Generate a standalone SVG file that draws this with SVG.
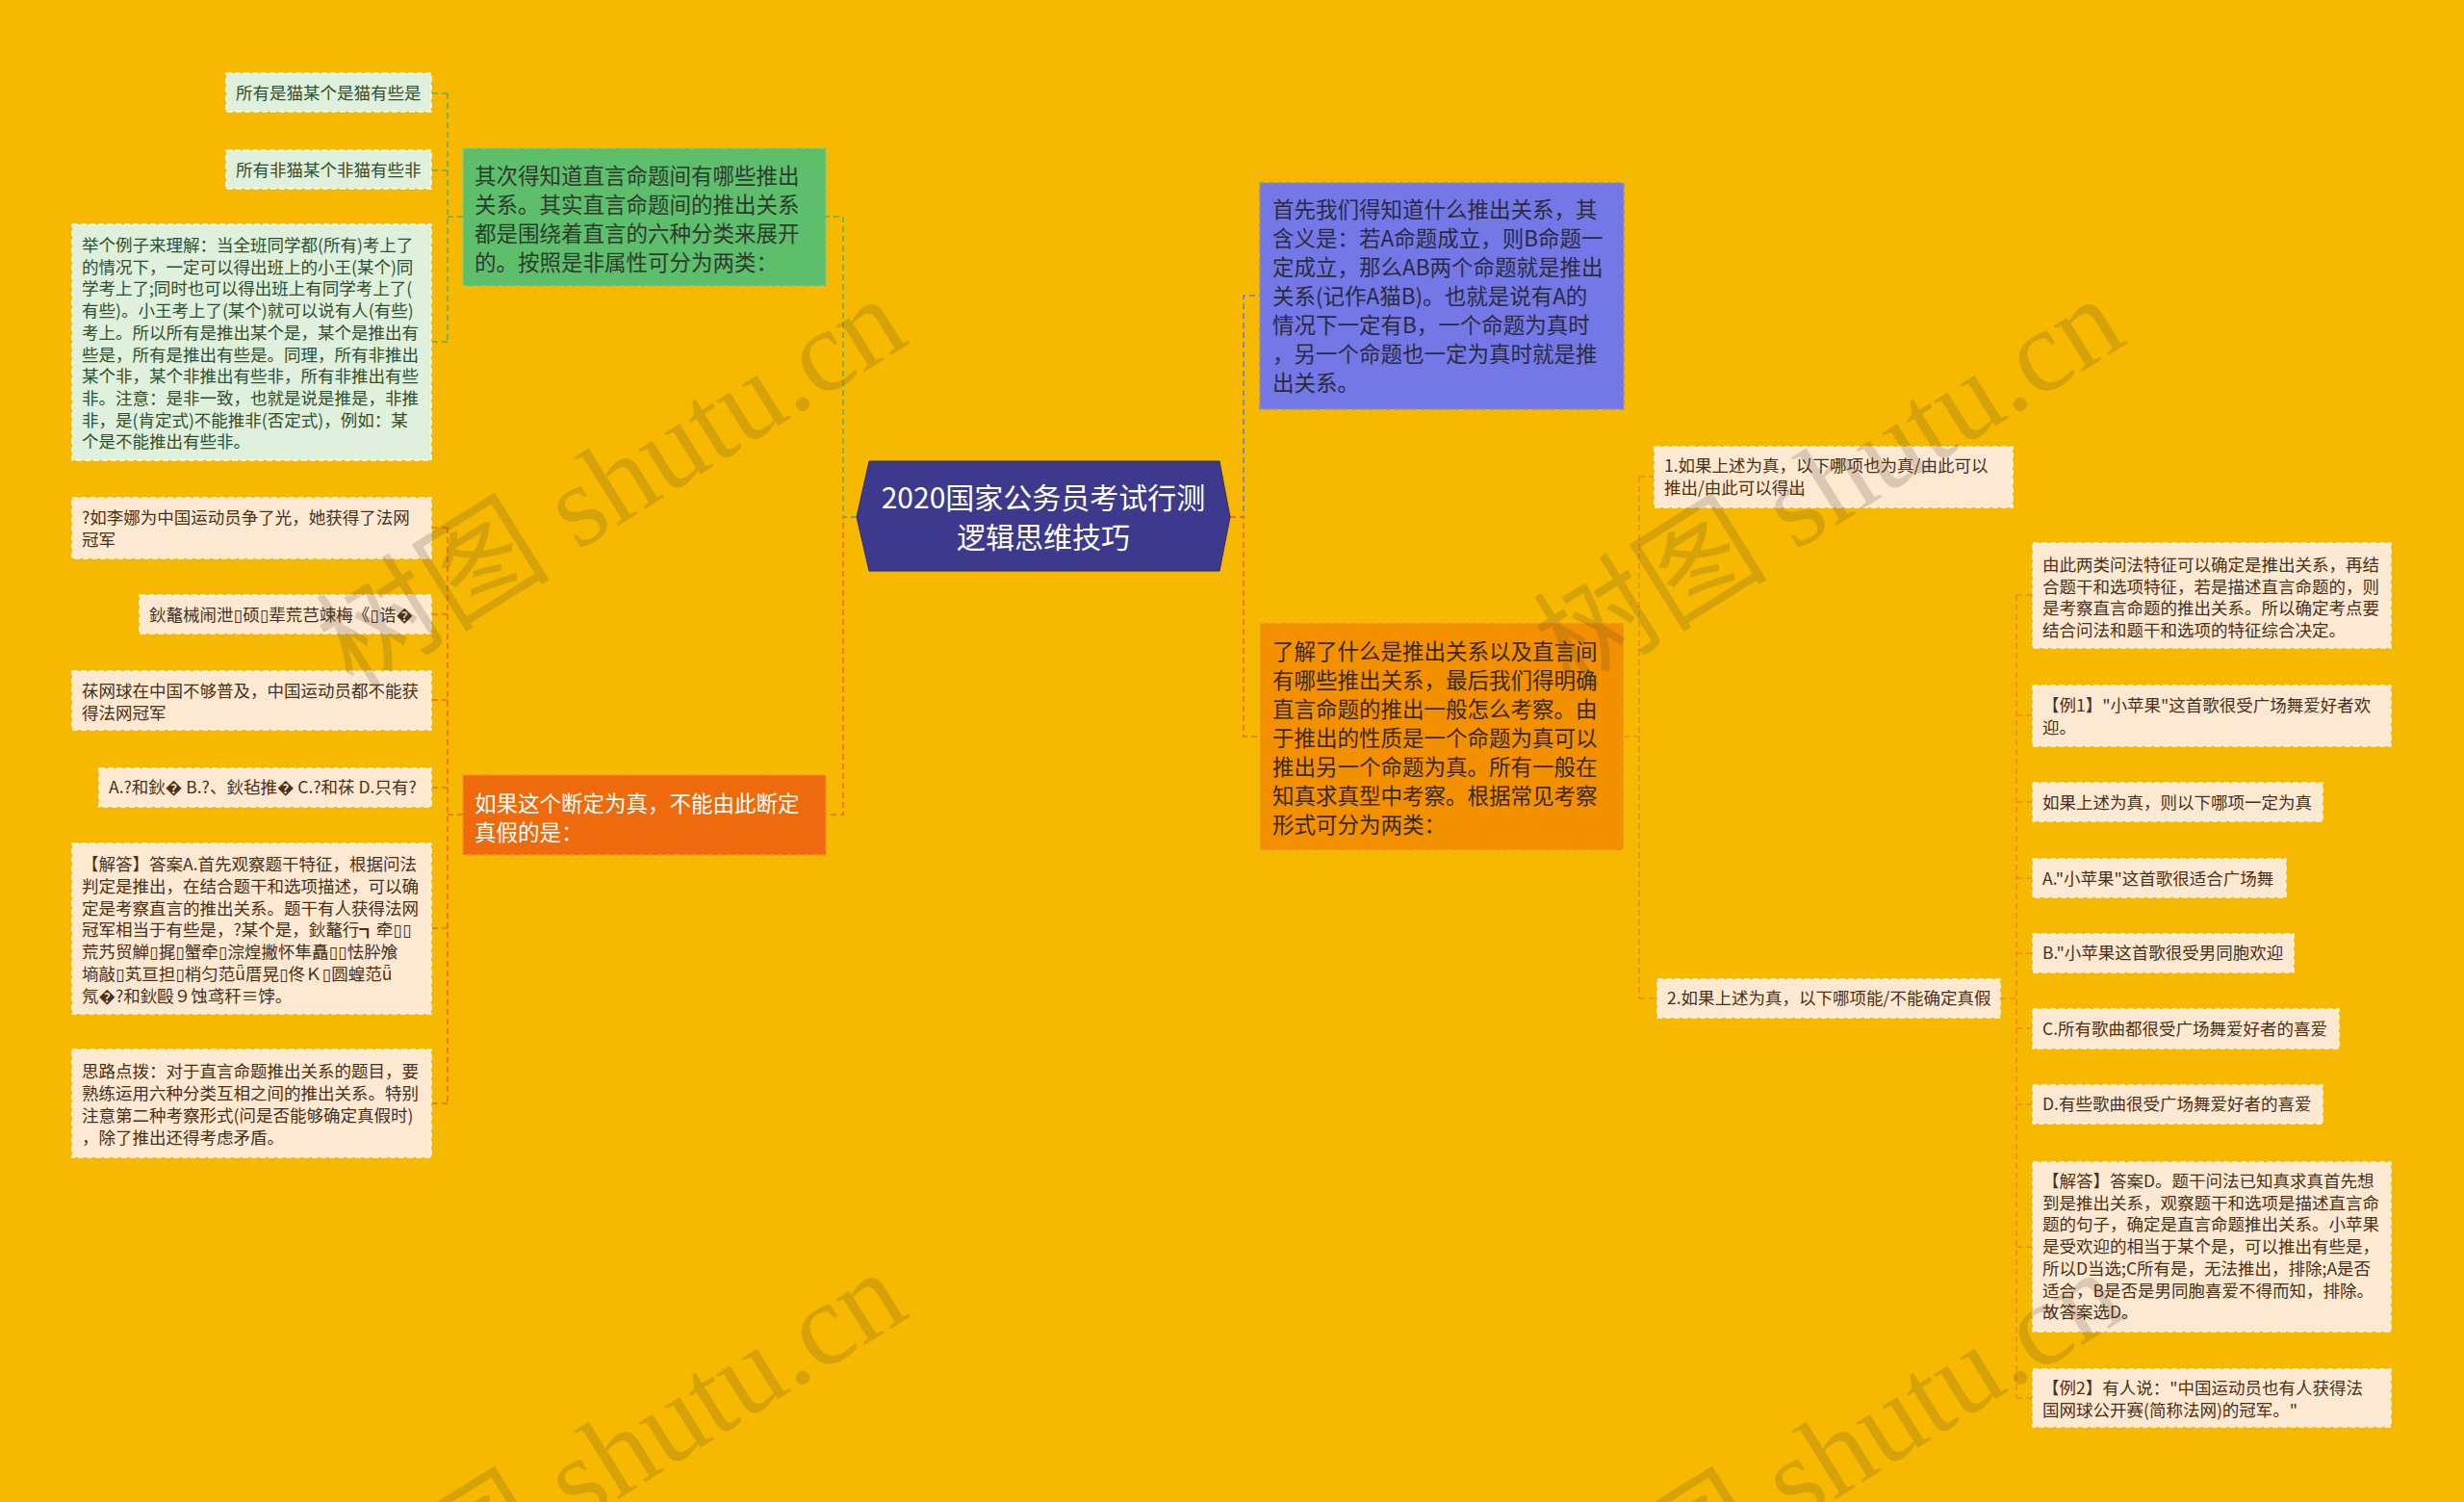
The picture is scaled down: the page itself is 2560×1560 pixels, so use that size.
<svg xmlns="http://www.w3.org/2000/svg" width="2560" height="1560" viewBox="0 0 2560 1560">
<defs>
<style>
text{font-family:"Noto Sans CJK SC","Noto Sans",sans-serif;}
.s{font-size:17.5px;}
.m{font-size:22.5px;}
.t{font-family:"DejaVu Sans",sans-serif;}
.lg rect{fill:#DFF0DC;stroke:#F4FAF2;stroke-width:1.5;stroke-dasharray:6 3;}
.lg text{fill:#2F4F2F;}
.pe rect{fill:#FDE8D2;stroke:#FFF6EC;stroke-width:1.5;stroke-dasharray:6 3;}
.pe text{fill:#4A3018;}
.c{fill:none;stroke-width:1.6;stroke-dasharray:6 4;}
.cg{stroke:#5DAE5A;}
.co{stroke:#EF6A0C;}
.cb{stroke:#7478C8;}
.cr{stroke:#EE8A1A;}
.wm{font-family:"Liberation Serif","Noto Sans CJK SC",serif;font-size:122px;fill:#5A4630;fill-opacity:0.2;}
</style>
</defs>
<rect x="0" y="0" width="2560" height="1560" fill="#F6B900"/>

<g id="connectors">
<path class="c co" d="M890,537 H876 V846 H858"/>
<path class="c cg" d="M890,537 H876 V225 H858"/>
<path class="c cg" d="M481,225 H465 M465,97 V355 M465,97 H448 M465,177 H448 M465,355 H448"/>
<path class="c co" d="M481,846 H465 M465,548 V1146 M465,548 H448 M465,638 H448 M465,727 H448 M465,818 H448 M465,964 H448 M465,1146 H448"/>
<path class="c cb" d="M1278,537 H1292 V307 H1309"/>
<path class="c co" d="M1278,537 H1292 V765 H1309"/>
<path class="c cr" d="M1687,765 H1703 M1703,495 V1037 M1703,495 H1719 M1703,1037 H1722"/>
<path class="c cr" d="M2078,1037 H2095 M2095,618 V1452 M2095,618 H2112 M2095,743 H2112 M2095,833 H2112 M2095,912 H2112 M2095,990 H2112 M2095,1068 H2112 M2095,1147 H2112 M2095,1295 H2112 M2095,1452 H2112"/>
</g>

<g id="root">
<polygon points="890,537 903,479 1267,479 1278,537 1267,593 903,593" fill="#3D3A8E" stroke="#2E2B70" stroke-width="1"/>
<text text-anchor="middle" font-size="30" fill="#FFFFFF"><tspan x="1084" y="528">2020国家公务员考试行测</tspan><tspan x="1084" y="569">逻辑思维技巧</tspan></text>
</g>

<g id="n-green">
<rect x="481" y="154" width="377" height="143" fill="#5DBE6B" stroke="#7FD08A" stroke-width="1.5" stroke-dasharray="6 3"/>
<text class="m" fill="#2E3A2E"><tspan x="493" y="191">其次得知道直言命题间有哪些推出</tspan><tspan x="493" y="221">关系。其实直言命题间的推出关系</tspan><tspan x="493" y="251">都是围绕着直言的六种分类来展开</tspan><tspan x="493" y="281">的。按照是非属性可分为两类：</tspan></text>
</g>

<g id="n-g1" class="lg">
<rect x="235" y="76" width="213" height="40"/>
<text class="s" x="245" y="103">所有是猫某个是猫有些是</text>
</g>
<g id="n-g2" class="lg">
<rect x="235" y="156" width="213" height="40"/>
<text class="s" x="245" y="183">所有非猫某个非猫有些非</text>
</g>
<g id="n-g3" class="lg">
<rect x="75" y="233" width="373" height="245"/>
<text class="s"><tspan x="85" y="261">举个例子来理解：当全班同学都(所有)考上了</tspan><tspan x="85" y="283.7">的情况下，一定可以得出班上的小王(某个)同</tspan><tspan x="85" y="306.4">学考上了;同时也可以得出班上有同学考上了(</tspan><tspan x="85" y="329.1">有些)。小王考上了(某个)就可以说有人(有些)</tspan><tspan x="85" y="351.8">考上。所以所有是推出某个是，某个是推出有</tspan><tspan x="85" y="374.5">些是，所有是推出有些是。同理，所有非推出</tspan><tspan x="85" y="397.2">某个非，某个非推出有些非，所有非推出有些</tspan><tspan x="85" y="419.9">非。注意：是非一致，也就是说是推是，非推</tspan><tspan x="85" y="442.6">非，是(肯定式)不能推非(否定式)，例如：某</tspan><tspan x="85" y="465.3">个是不能推出有些非。</tspan></text>
</g>

<g id="n-orange-left">
<rect x="481" y="805" width="377" height="83" fill="#EF6A0C" stroke="#F58A3A" stroke-width="1.5" stroke-dasharray="6 3"/>
<text class="m" fill="#FFFFFF"><tspan x="493" y="843">如果这个断定为真，不能由此断定</tspan><tspan x="493" y="873">真假的是：</tspan></text>
</g>

<g id="n-p1" class="pe">
<rect x="75" y="517" width="373" height="63"/>
<text class="s"><tspan x="85" y="544">?如李娜为中国运动员争了光，她获得了法网</tspan><tspan x="85" y="567">冠军</tspan></text>
</g>
<g id="n-p2" class="pe">
<rect x="145" y="618" width="303" height="40"/>
<text class="s" x="155" y="645">鈥鼇械闹泄<tspan class="t">▯</tspan>硕<tspan class="t">▯</tspan>辈荒芑竦梅《<tspan class="t">▯</tspan>诰�</text>
</g>
<g id="n-p3" class="pe">
<rect x="75" y="697" width="373" height="61"/>
<text class="s"><tspan x="85" y="724">茠网球在中国不够普及，中国运动员都不能获</tspan><tspan x="85" y="747">得法网冠军</tspan></text>
</g>
<g id="n-p4" class="pe">
<rect x="103" y="798" width="345" height="40"/>
<text class="s" x="113" y="824">A.?和鈥� B.?、鈥毡推� C.?和茠 D.只有?</text>
</g>
<g id="n-p5" class="pe">
<rect x="75" y="876" width="373" height="177"/>
<text class="s"><tspan x="85" y="904">【解答】答案A.首先观察题干特征，根据问法</tspan><tspan x="85" y="926.8">判定是推出，在结合题干和选项描述，可以确</tspan><tspan x="85" y="949.6">定是考察直言的推出关系。题干有人获得法网</tspan><tspan x="85" y="972.4">冠军相当于有些是，?某个是，鈥鼇行┓牵<tspan class="t">▯▯</tspan></tspan><tspan x="85" y="995.2">荒艿贸觯<tspan class="t">▯</tspan>捤<tspan class="t">▯</tspan>蟹牵<tspan class="t">▯</tspan>淙煌撇怀隼矗<tspan class="t">▯▯</tspan>怯肸飧</tspan><tspan x="85" y="1018">墒敲<tspan class="t">▯</tspan>芄亘担<tspan class="t">▯</tspan>梢匀范ǖ厝晃<tspan class="t">▯</tspan>佟Ｋ<tspan class="t">▯</tspan>圆蝗范ǖ</tspan><tspan x="85" y="1040.8">氖�?和鈥毆９蚀鸢秆≡饽。</tspan></text>
</g>
<g id="n-p6" class="pe">
<rect x="75" y="1090" width="373" height="112"/>
<text class="s"><tspan x="85" y="1119">思路点拨：对于直言命题推出关系的题目，要</tspan><tspan x="85" y="1142">熟练运用六种分类互相之间的推出关系。特别</tspan><tspan x="85" y="1165">注意第二种考察形式(问是否能够确定真假时)</tspan><tspan x="85" y="1188">，除了推出还得考虑矛盾。</tspan></text>
</g>

<g id="n-blue">
<rect x="1309" y="190" width="378" height="235" fill="#7478E6" stroke="#8E8EB0" stroke-width="1.5" stroke-dasharray="6 3"/>
<text class="m" fill="#2A2A40"><tspan x="1322" y="226">首先我们得知道什么推出关系，其</tspan><tspan x="1322" y="256">含义是：若A命题成立，则B命题一</tspan><tspan x="1322" y="286">定成立，那么AB两个命题就是推出</tspan><tspan x="1322" y="316">关系(记作A猫B)。也就是说有A的</tspan><tspan x="1322" y="346">情况下一定有B，一个命题为真时</tspan><tspan x="1322" y="376">，另一个命题也一定为真时就是推</tspan><tspan x="1322" y="406">出关系。</tspan></text>
</g>

<g id="n-orange-right">
<rect x="1309" y="647" width="378" height="236" fill="#F29000" stroke="#F6A830" stroke-width="1.5" stroke-dasharray="6 3"/>
<text class="m" fill="#3A2808"><tspan x="1322" y="685">了解了什么是推出关系以及直言间</tspan><tspan x="1322" y="715">有哪些推出关系，最后我们得明确</tspan><tspan x="1322" y="745">直言命题的推出一般怎么考察。由</tspan><tspan x="1322" y="775">于推出的性质是一个命题为真可以</tspan><tspan x="1322" y="805">推出另一个命题为真。所有一般在</tspan><tspan x="1322" y="835">知真求真型中考察。根据常见考察</tspan><tspan x="1322" y="865">形式可分为两类：</tspan></text>
</g>

<g id="n-r1" class="pe">
<rect x="1719" y="464" width="372" height="63"/>
<text class="s"><tspan x="1729" y="490">1.如果上述为真，以下哪项也为真/由此可以</tspan><tspan x="1729" y="513">推出/由此可以得出</tspan></text>
</g>
<g id="n-r2" class="pe">
<rect x="1722" y="1017" width="356" height="40"/>
<text class="s" x="1732" y="1043">2.如果上述为真，以下哪项能/不能确定真假</text>
</g>

<g id="n-q1" class="pe">
<rect x="2112" y="564" width="372" height="109"/>
<text class="s"><tspan x="2122" y="593">由此两类问法特征可以确定是推出关系，再结</tspan><tspan x="2122" y="615.7">合题干和选项特征，若是描述直言命题的，则</tspan><tspan x="2122" y="638.4">是考察直言命题的推出关系。所以确定考点要</tspan><tspan x="2122" y="661.1">结合问法和题干和选项的特征综合决定。</tspan></text>
</g>
<g id="n-q2" class="pe">
<rect x="2112" y="712" width="372" height="63"/>
<text class="s"><tspan x="2122" y="739">【例1】"小苹果"这首歌很受广场舞爱好者欢</tspan><tspan x="2122" y="762">迎。</tspan></text>
</g>
<g id="n-q3" class="pe">
<rect x="2112" y="813" width="301" height="40"/>
<text class="s" x="2122" y="840">如果上述为真，则以下哪项一定为真</text>
</g>
<g id="n-q4" class="pe">
<rect x="2112" y="892" width="263" height="40"/>
<text class="s" x="2122" y="919">A."小苹果"这首歌很适合广场舞</text>
</g>
<g id="n-q5" class="pe">
<rect x="2112" y="970" width="271" height="40"/>
<text class="s" x="2122" y="996">B."小苹果这首歌很受男同胞欢迎</text>
</g>
<g id="n-q6" class="pe">
<rect x="2112" y="1048" width="318" height="41"/>
<text class="s" x="2122" y="1075">C.所有歌曲都很受广场舞爱好者的喜爱</text>
</g>
<g id="n-q7" class="pe">
<rect x="2112" y="1127" width="301" height="40"/>
<text class="s" x="2122" y="1153">D.有些歌曲很受广场舞爱好者的喜爱</text>
</g>
<g id="n-q8" class="pe">
<rect x="2112" y="1207" width="372" height="176"/>
<text class="s"><tspan x="2122" y="1233">【解答】答案D。题干问法已知真求真首先想</tspan><tspan x="2122" y="1255.7">到是推出关系，观察题干和选项是描述直言命</tspan><tspan x="2122" y="1278.4">题的句子，确定是直言命题推出关系。小苹果</tspan><tspan x="2122" y="1301.1">是受欢迎的相当于某个是，可以推出有些是，</tspan><tspan x="2122" y="1323.8">所以D当选;C所有是，无法推出，排除;A是否</tspan><tspan x="2122" y="1346.5">适合，B是否是男同胞喜爱不得而知，排除。</tspan><tspan x="2122" y="1369.2">故答案选D。</tspan></text>
</g>
<g id="n-q9" class="pe">
<rect x="2112" y="1422" width="372" height="60"/>
<text class="s"><tspan x="2122" y="1448">【例2】有人说："中国运动员也有人获得法</tspan><tspan x="2122" y="1471">国网球公开赛(简称法网)的冠军。"</tspan></text>
</g>

<g id="watermarks">
<text class="wm" transform="translate(367,718) rotate(-32)">树图 shutu.cn</text>
<text class="wm" transform="translate(1632,718) rotate(-32)">树图 shutu.cn</text>
<text class="wm" transform="translate(367,1729) rotate(-32)">树图 shutu.cn</text>
<text class="wm" transform="translate(1632,1729) rotate(-32)">树图 shutu.cn</text>
</g>
</svg>
